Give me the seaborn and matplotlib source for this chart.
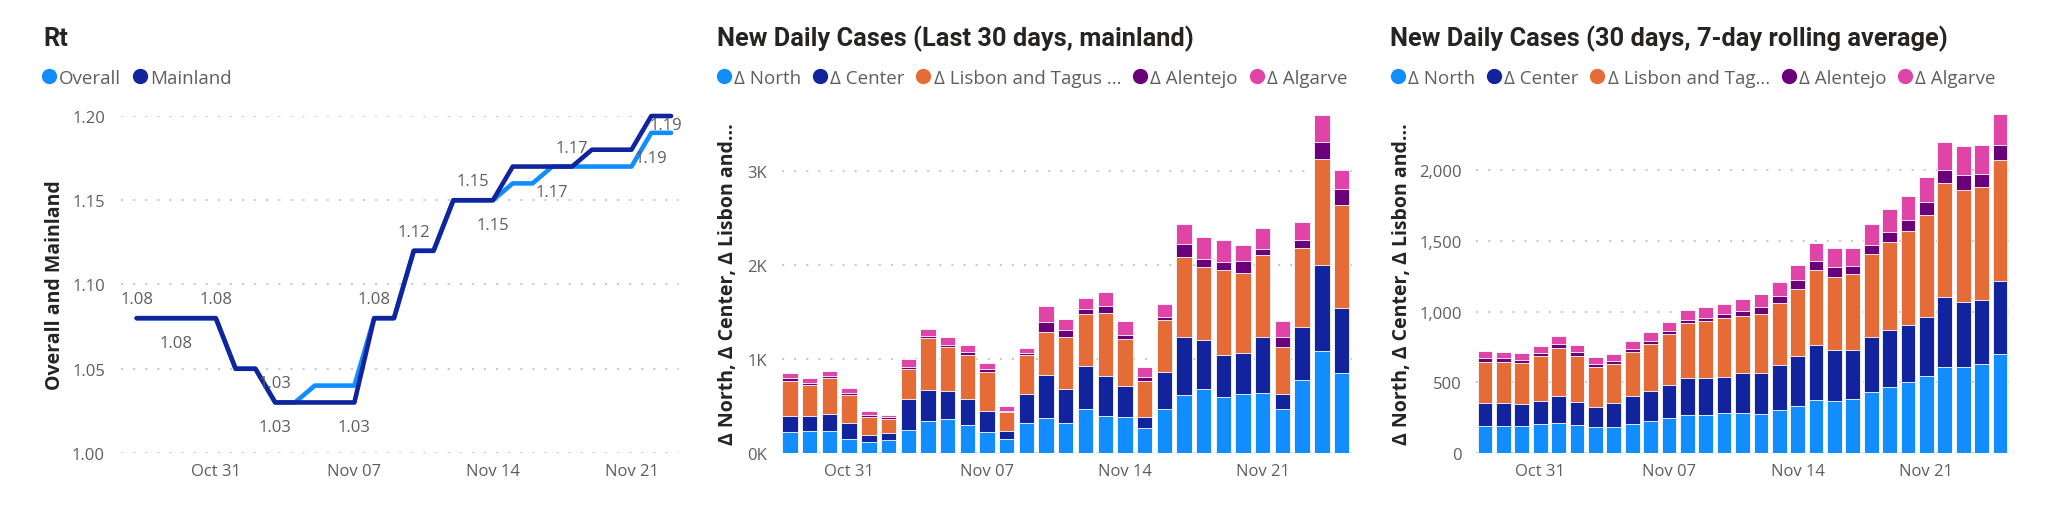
import matplotlib
matplotlib.use("Agg")
import matplotlib.pyplot as plt
from matplotlib.lines import Line2D
import seaborn as sns
import pandas as pd
import numpy as np

# ---- Rt, Oct 27 - Nov 23
rt_dates = pd.date_range("2020-10-27", "2020-11-23")
rt_overall = [1.08, 1.08, 1.08, 1.08, 1.08, 1.05, 1.05, 1.03, 1.03, 1.04, 1.04, 1.04, 1.08, 1.08,
              1.12, 1.12, 1.15, 1.15, 1.15, 1.16, 1.16, 1.17, 1.17, 1.17, 1.17, 1.17, 1.19, 1.19]
rt_mainland = [1.08, 1.08, 1.08, 1.08, 1.08, 1.05, 1.05, 1.03, 1.03, 1.03, 1.03, 1.03, 1.08, 1.08,
               1.12, 1.12, 1.15, 1.15, 1.15, 1.17, 1.17, 1.17, 1.17, 1.18, 1.18, 1.18, 1.20, 1.20]
# data labels shown on the line chart: (day index, series, side)
rt_labels = [(0, "Mainland", "above"), (2, "Mainland", "below"), (4, "Mainland", "above"),
             (7, "Mainland", "above"), (7, "Mainland", "below"), (11, "Mainland", "below"),
             (12, "Mainland", "above"), (14, "Mainland", "above"), (17, "Mainland", "above"),
             (18, "Mainland", "below"), (21, "Overall", "below"), (22, "Mainland", "above"),
             (26, "Overall", "below"), (27, "Overall", "top")]

# ---- new daily cases, Oct 28 - Nov 25
case_dates = pd.date_range("2020-10-28", "2020-11-25")
regions_daily = ["\u0394 North", "\u0394 Center", "\u0394 Lisbon and Tagus ...", "\u0394 Alentejo", "\u0394 Algarve"]
regions_avg = ["\u0394 North", "\u0394 Center", "\u0394 Lisbon and Tag...", "\u0394 Alentejo", "\u0394 Algarve"]

daily_north = [220, 238, 230, 149, 121, 135, 241, 337, 365, 298, 220, 149, 319, 369, 323, 468, 390, 387,
               262, 468, 613, 677, 592, 631, 642, 465, 777, 1089, 847]
daily_center = [177, 152, 188, 170, 74, 78, 333, 333, 298, 276, 230, 81, 312, 457, 358, 461, 426, 326,
                117, 390, 621, 525, 454, 429, 588, 159, 567, 911, 692]
daily_lisbon = [369, 333, 376, 298, 192, 152, 323, 550, 468, 465, 415, 206, 412, 465, 553, 550, 670, 500,
                383, 557, 851, 773, 901, 858, 876, 500, 833, 1128, 1103]
daily_alentejo = [32, 22, 29, 18, 17, 18, 21, 28, 18, 35, 25, 14, 24, 99, 71, 56, 74, 42,
                  46, 35, 138, 92, 85, 124, 68, 106, 92, 184, 166]
daily_algarve = [50, 49, 49, 60, 43, 21, 78, 75, 89, 71, 67, 54, 46, 170, 120, 117, 156, 149,
                 107, 132, 217, 234, 234, 167, 220, 178, 185, 287, 203]

avg_north = [193, 193, 193, 205, 215, 200, 182, 186, 203, 226, 250, 266, 269, 281, 285, 278, 307, 335,
             375, 365, 384, 432, 465, 500, 542, 606, 606, 632, 698]
avg_center = [163, 158, 154, 165, 186, 161, 141, 168, 198, 215, 233, 262, 262, 259, 281, 288, 318, 351,
              391, 361, 347, 389, 403, 408, 420, 500, 462, 453, 521]
avg_lisbon = [288, 290, 290, 314, 344, 328, 285, 276, 313, 328, 356, 392, 400, 415, 401, 420, 436, 477,
              526, 521, 538, 589, 622, 662, 724, 806, 795, 794, 851]
avg_alentejo = [30, 29, 23, 23, 28, 23, 24, 21, 22, 21, 26, 23, 26, 28, 40, 47, 50, 61,
                64, 66, 56, 64, 73, 74, 90, 90, 101, 97, 111]
avg_algarve = [50, 47, 47, 52, 55, 54, 45, 52, 56, 64, 64, 71, 73, 71, 82, 92, 96, 108,
               127, 135, 125, 146, 165, 176, 179, 198, 208, 200, 215]

tick_days = ["2020-10-31", "2020-11-07", "2020-11-14", "2020-11-21"]
daily_yticks = [0, 1000, 2000, 3000]
avg_yticks = [0, 500, 1000, 1500, 2000]
rt_yticks = [1.00, 1.05, 1.10, 1.15, 1.20]

region_colors = ["#118DFF", "#12239E", "#E66C37", "#6B007B", "#E044A7"]
rt_colors = {"Overall": "#118DFF", "Mainland": "#12239E"}
GREY = "#605E5C"
DARK = "#252423"

sns.set_theme(style="white")
plt.rcParams["font.family"] = ["Open Sans", "DejaVu Sans"]
TITLE_FONT = ["Roboto", "DejaVu Sans"]

W, H = 2048, 506
fig = plt.figure(figsize=(W / 100, H / 100), dpi=100)


def box(l, t, r, b):
    return [l / W, 1 - b / H, (r - l) / W, (b - t) / H]


def style_axes(ax, pad):
    sns.despine(ax=ax, left=True, bottom=True)
    ax.grid(axis="y", color="#C8C6C4", linestyle=(0, (1.2, 5.5)), linewidth=1.3)
    ax.grid(axis="x", visible=False)
    ax.set_axisbelow(True)
    ax.tick_params(axis="both", length=0, labelsize=12, labelcolor=GREY)
    ax.tick_params(axis="y", pad=pad)
    ax.tick_params(axis="x", pad=7)
    ax.set_xlabel("")
    ax.set_ylabel("")


def add_legend(ax, labels, cols, x, y):
    handles = [Line2D([], [], marker="o", linestyle="", markersize=10, color=c) for c in cols]
    ax.legend(handles, labels, loc="center left", bbox_to_anchor=(x / W, 1 - y / H),
              bbox_transform=fig.transFigure, ncol=len(labels), frameon=False,
              handlelength=0.6, handletextpad=0.25, columnspacing=0.7, borderpad=0,
              borderaxespad=0, fontsize=13.5, labelcolor=GREY)


def add_titles(title, ylabel, x_title, x_ylab, y_mid):
    fig.text(x_title / W, 1 - 46 / H, title, fontsize=18.3, fontweight="bold", color=DARK,
             family=TITLE_FONT, va="baseline", ha="left")
    fig.text(x_ylab / W, 1 - y_mid / H, ylabel, fontsize=14, fontweight="bold", color=DARK,
             rotation=90, va="center", ha="center")


# ---------------- Rt line chart
ax1 = fig.add_axes(box(121, 117, 679, 454))
rt = pd.DataFrame({"date": rt_dates, "Overall": rt_overall, "Mainland": rt_mainland})
rt_long = rt.melt("date", var_name="series", value_name="rt")
sns.lineplot(data=rt_long, x="date", y="rt", hue="series", hue_order=["Overall", "Mainland"],
             palette=rt_colors, linewidth=3.3, legend=False, ax=ax1)
for line in ax1.lines:
    line.set_clip_on(False)
    line.set_solid_capstyle("round")
    line.set_solid_joinstyle("round")

offsets = {"above": (0, 19), "below": (0, -25), "top": (-5, 8)}
for i, series, side in rt_labels:
    v = rt[series][i]
    ax1.annotate(f"{v:.2f}", (rt_dates[i], v), xytext=offsets[side], textcoords="offset pixels",
                 ha="center", va="center", fontsize=12, color=GREY, annotation_clip=False)

ax1.set_ylim(1.0, 1.2)
day = pd.Timedelta(days=1)
ax1.set_xlim(rt_dates[0] - 0.79 * day, rt_dates[-1] + 0.4 * day)
ax1.set_yticks(rt_yticks, [f"{v:.2f}" for v in rt_yticks])
ax1.set_xticks(pd.to_datetime(tick_days), [pd.Timestamp(d).strftime("%b %d") for d in tick_days])
style_axes(ax1, pad=11.5)
add_legend(ax1, ["Overall", "Mainland"], [rt_colors["Overall"], rt_colors["Mainland"]], 43, 79)
add_titles("Rt", "Overall and Mainland", 43, 55, 285)


# ---------------- stacked bar charts
def stacked(ax, parts, names, top, yticks, ylabels, width):
    df = pd.DataFrame(dict(zip(names, parts)), index=case_dates)
    tops = df.cumsum(axis=1)
    pos = np.arange(len(df))
    for name, col in reversed(list(zip(names, region_colors))):
        sns.barplot(x=pos, y=tops[name].values, color=col, saturation=1, width=width,
                    edgecolor="white", linewidth=0.6, ax=ax)
    ax.set_ylim(0, top)
    ax.set_yticks(yticks, ylabels)
    idx = [list(case_dates).index(pd.Timestamp(d)) for d in tick_days]
    ax.set_xticks(idx, [pd.Timestamp(d).strftime("%b %d") for d in tick_days])


ax2 = fig.add_axes(box(782, 115, 1352, 454))
stacked(ax2, [daily_north, daily_center, daily_lisbon, daily_alentejo, daily_algarve], regions_daily,
        3606, daily_yticks, [f"{v // 1000}K" for v in daily_yticks], 0.78)
ax2.set_xlim(-0.41, 28.53)
style_axes(ax2, pad=10.8)
add_legend(ax2, regions_daily, region_colors, 718, 79)
add_titles("New Daily Cases (Last 30 days, mainland)", "\u0394 North, \u0394 Center, \u0394 Lisbon and...",
           717, 728, 284)

ax3 = fig.add_axes(box(1476, 115, 2009, 454))
stacked(ax3, [avg_north, avg_center, avg_lisbon, avg_alentejo, avg_algarve], regions_avg,
        2397, avg_yticks, [f"{v:,}" for v in avg_yticks], 0.8)
ax3.set_xlim(-0.49, 28.49)
style_axes(ax3, pad=10)
add_legend(ax3, regions_avg, region_colors, 1392, 79)
add_titles("New Daily Cases (30 days, 7-day rolling average)", "\u0394 North, \u0394 Center, \u0394 Lisbon and...",
           1390, 1402, 284)

fig.savefig("out.png", dpi=100, facecolor="white")
